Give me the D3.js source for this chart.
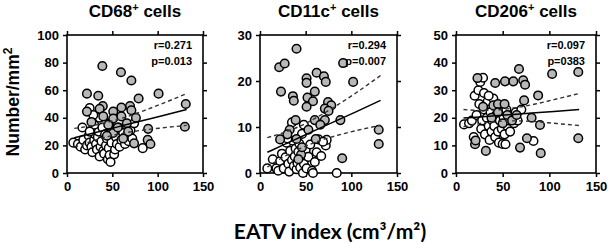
<!DOCTYPE html>
<html><head><meta charset="utf-8">
<script src="https://cdn.jsdelivr.net/npm/d3@7/dist/d3.min.js"></script>
<style>
body{margin:0;background:#fff;}
text{font-family:"Liberation Sans",Arial,sans-serif;font-weight:bold;fill:#000;}
</style></head>
<body>
<svg id="chart" width="611" height="244"></svg>
<script>
// ---------- data ----------
const panelTitles = ["CD68", "CD11c", "CD206"];
const statR = ["r=0.271", "r=0.294", "r=0.097"];
const statP = ["p=0.013", "p=0.007", "p=0383"];
const yMax = [100, 30, 50];
const yTicks = [[0,20,40,60,80,100],[0,10,20,30],[0,10,20,30,40,50]];
const xTicks = [0, 50, 100, 150];

const cd68Gray = [[39,77.5],[59.5,73],[71,67],[22,57.5],[101,57.5],[34.5,56],[79,54],[131,50],[39.5,48.5],[69.5,48.5],[60,47.5],[36,46.5],[22,44.5],[51,44.5],[71,45.5],[40,41],[51,39.5],[60,41],[76,40],[27,37],[45.5,35],[66,36],[89.5,32],[130,33.5],[67.5,30],[51,29],[89,24],[92,21],[74,21.5],[56,33],[44,27],[62,25]];
const cd68White = [[7,22],[17,33],[12,21],[15,19],[18,24],[20,17],[22,20],[24,27],[25,22],[27,19],[28,15],[30,24],[31,28],[32,21],[33,17],[34,26],[35,30],[36,12],[37,19],[38,23],[39,33],[40,16],[41,14],[42,28],[43,20],[44,25],[45,10],[46,18],[47,13],[48,8],[49,22],[50,30],[52,13.5],[53,17],[54,26],[55,21],[57,33],[58,19],[60,24],[62,29],[64,21],[66,27],[68,23],[70,31],[72,25],[83.5,18],[74,36],[30,35],[25,30],[47,36],[36,40],[25,47],[29,42]];

const cd11cGray = [[40,27],[21,23],[27,23.8],[91,23.9],[102,19.8],[51,20.6],[51,19.6],[62,21.8],[70,21],[72,19.8],[23,17.7],[36,16.7],[37,15.7],[52,16.4],[60,17.7],[58,15.6],[51,14.4],[74.5,15.4],[78,14.7],[71,14],[88,11.5],[39,11.5],[60,11.5],[71,11.5],[53,9.4],[32.5,9.4],[22,7.3],[61,7.4],[40,7.4],[130,9.4],[130,6.3],[90,3.2],[45,4],[30,8.4],[66,10.5],[75,13.5],[46,5.6],[42,3]];
const cd11cWhite = [[8,1],[14,3],[18,1],[20,0.5],[22,2.6],[24,4.2],[26,1],[28,3.4],[29,6.6],[31,2],[32,0.3],[33,4.8],[35,2.8],[36,7],[37,1.5],[38,3.6],[39,5.3],[40,0.8],[41,2.2],[42,4.6],[43,6.4],[44,1.2],[45,3.2],[46,8.5],[47,0],[48,2],[50,5],[51,1],[53,3.5],[55,6.2],[57,0.5],[58,0],[60,2.4],[62,4.5],[64,7.3],[67,3.7],[72,6],[73,7.2],[84,0],[30,7.5],[48,10.5],[35,11],[69,6.8]];

const cd206Gray = [[131,36.6],[103,35.9],[67.5,37.7],[23,34.4],[42,32.6],[52.5,33.2],[61.4,33.2],[72,33.6],[74,32],[88,28.1],[73,26.3],[29,24],[40,24.5],[45,25],[52,25],[81,20],[90,17.4],[76,12.6],[131,12.6],[68.6,9.2],[90.8,7.2],[20.4,10.4],[21,11.8],[32,8],[45,22],[55,21],[60,19],[50,18],[38,20],[65,21]];
const cd206White = [[8.6,17.6],[14,18],[17,19],[19,13],[20,28],[22,21],[24,30],[26,33],[29,34.5],[25,25],[27,16],[28,19],[30,23],[31,14],[33,20],[34,26],[35,17],[36,12],[37,22],[38,15],[39,19],[40,27],[41,17],[42,13],[43,21],[44,24],[45,15],[46,11],[47,19],[48,22],[49,16],[50,10.5],[51,20],[52,14],[54,23],[55,17],[56,19],[58,15],[60,21],[62,18],[64,22],[66,19],[70,23],[83,11.6],[53,10.4],[30,29],[35,28]];

// regression line and confidence bands
const bandX = [8, 25, 45, 65, 85, 105, 132];
const cd68Fit   = [25.5, 28.3, 31.6, 34.9, 38.2, 41.5, 46.0];
const cd68Upper = [32.3, 34.0, 36.8, 40.6, 45.2, 50.3, 57.5];
const cd68Lower = [18.7, 22.6, 26.4, 29.2, 31.2, 32.7, 34.5];
const cd11cFit   = [4.5, 6.05, 7.87, 9.69, 11.5, 13.3, 15.8];
const cd11cUpper = [7.7, 8.7, 10.3, 12.4, 14.8, 17.4, 21.2];
const cd11cLower = [1.3, 3.4, 5.4, 7.0, 8.2, 9.2, 10.4];
const cd206Fit   = [19.9, 20.3, 20.8, 21.3, 21.8, 22.3, 23.0];
const cd206Upper = [23.0, 22.7, 22.9, 23.7, 25.0, 26.6, 28.8];
const cd206Lower = [16.8, 17.9, 18.7, 18.9, 18.6, 18.0, 17.2];

const panels = [
  {gray: cd68Gray, white: cd68White, fit: cd68Fit, up: cd68Upper, lo: cd68Lower, x0: 67, x1: 203},
  {gray: cd11cGray, white: cd11cWhite, fit: cd11cFit, up: cd11cUpper, lo: cd11cLower, x0: 260, x1: 397},
  {gray: cd206Gray, white: cd206White, fit: cd206Fit, up: cd206Upper, lo: cd206Lower, x0: 456, x1: 596}
];

// ---------- drawing ----------
const svg = d3.select("#chart");
const yTop = 35, yBot = 173;

panels.forEach((p, i) => {
  const x = d3.scaleLinear().domain([0, 150]).range([p.x0, p.x1]);
  const y = d3.scaleLinear().domain([0, yMax[i]]).range([yBot, yTop]);
  const g = svg.append("g");

  // frame
  g.append("rect").attr("x", p.x0).attr("y", yTop).attr("width", p.x1 - p.x0).attr("height", yBot - yTop)
    .attr("fill", "none").attr("stroke", "#000").attr("stroke-width", 1.6);

  const axB = d3.axisBottom(x).tickValues(xTicks).tickSize(4).tickPadding(5);
  const axL = d3.axisLeft(y).tickValues(yTicks[i]).tickSize(4).tickPadding(4);
  const axT = d3.axisTop(x).tickValues(xTicks).tickSize(4).tickFormat("");
  const axR = d3.axisRight(y).tickValues(yTicks[i]).tickSize(4).tickFormat("");
  [[axB, `translate(0,${yBot})`], [axL, `translate(${p.x0},0)`], [axT, `translate(0,${yTop})`], [axR, `translate(${p.x1},0)`]].forEach(([ax, tr]) => {
    const a = g.append("g").attr("transform", tr).call(ax);
    a.select(".domain").remove();
    a.selectAll("line").attr("stroke", "#000").attr("stroke-width", 1.5);
    a.selectAll("text").style("font-size", "13px").style("font-family", "'Liberation Sans',Arial,sans-serif").style("font-weight", "bold").attr("fill", "#000");
  });

  // points
  const pts = g.append("g");
  pts.selectAll("circle.w").data(p.white).join("circle").attr("class", "w")
    .attr("cx", d => x(d[0])).attr("cy", d => y(d[1])).attr("r", 4.3)
    .attr("fill", "#fff").attr("stroke", "#000").attr("stroke-width", 1.5);
  pts.selectAll("circle.g").data(p.gray).join("circle").attr("class", "g")
    .attr("cx", d => x(d[0])).attr("cy", d => y(d[1])).attr("r", 4.3)
    .attr("fill", "#b8b8b8").attr("stroke", "#000").attr("stroke-width", 1.5);

  // lines
  const mk = arr => d3.line().x((d, k) => x(bandX[k])).y(d => y(d)).curve(d3.curveMonotoneX)(arr);
  g.append("path").attr("d", mk(p.fit)).attr("fill", "none").attr("stroke", "#000").attr("stroke-width", 1.5);
  [p.up, p.lo].forEach(b => g.append("path").attr("d", mk(b)).attr("fill", "none")
    .attr("stroke", "#333").attr("stroke-width", 1.4).attr("stroke-dasharray", "4,3"));

  // stats
  g.append("text").attr("x", p.x1 - 11).attr("y", 49).attr("text-anchor", "end").style("font-size", "11px").text(statR[i]);
  g.append("text").attr("x", p.x1 - 11).attr("y", 65).attr("text-anchor", "end").style("font-size", "11px").text(statP[i]);

  // title
  const t = g.append("text").attr("x", (p.x0 + p.x1) / 2).attr("y", 17).attr("text-anchor", "middle").style("font-size", "17px");
  t.append("tspan").text(panelTitles[i]);
  t.append("tspan").attr("dy", -6).style("font-size", "11px").text("+");
  t.append("tspan").attr("dy", 6).text(" cells");
});

// y label
const yl = svg.append("text").attr("transform", "translate(19,102) rotate(-90)").attr("text-anchor", "middle").style("font-size", "17.5px");
yl.append("tspan").text("Number/mm");
yl.append("tspan").attr("dy", -7).style("font-size", "12px").text("2");

// x label
svg.append("text").attr("x", 330).attr("y", 239).attr("text-anchor", "middle")
  .style("font-family", "Lato, 'Liberation Sans', sans-serif").style("font-size", "21px").style("font-weight", "bold")
  .text("EATV index (cm³/m²)");
</script>
</body></html>
